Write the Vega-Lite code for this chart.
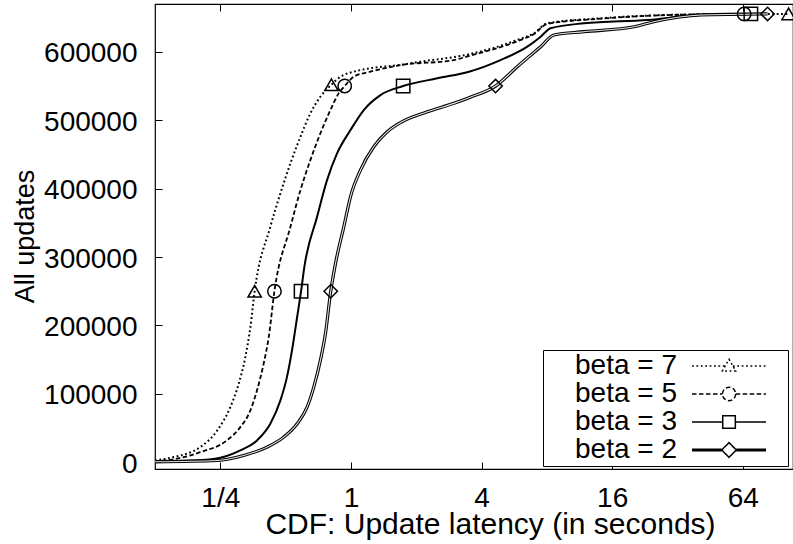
{
  "$schema": "https://vega.github.io/schema/vega-lite/v6.json",
  "width": 638,
  "height": 465,
  "autosize": {"type": "none"},
  "padding": {"left": 155, "top": 4, "right": 0, "bottom": 75},
  "background": "white",
  "config": {
    "view": {"stroke": "black", "strokeWidth": 1.2},
    "font": "Liberation Sans",
    "axis": {
      "grid": false,
      "domain": false,
      "tickColor": "black",
      "tickWidth": 1,
      "tickSize": -7,
      "labelColor": "black",
      "titleColor": "black",
      "labelFont": "Liberation Sans",
      "titleFont": "Liberation Sans",
      "labelFontSize": 28,
      "titleFontWeight": "normal"
    }
  },
  "datasets": {
    "curves": [
      {"beta": "beta = 7", "latency": 0.125, "updates": 2500},
      {"beta": "beta = 7", "latency": 0.147, "updates": 6400},
      {"beta": "beta = 7", "latency": 0.202, "updates": 22000},
      {"beta": "beta = 7", "latency": 0.242, "updates": 46400},
      {"beta": "beta = 7", "latency": 0.278, "updates": 80500},
      {"beta": "beta = 7", "latency": 0.304, "updates": 114800},
      {"beta": "beta = 7", "latency": 0.326, "updates": 153700},
      {"beta": "beta = 7", "latency": 0.344, "updates": 197600},
      {"beta": "beta = 7", "latency": 0.36, "updates": 250000},
      {"beta": "beta = 7", "latency": 0.425, "updates": 344000},
      {"beta": "beta = 7", "latency": 0.473, "updates": 393000},
      {"beta": "beta = 7", "latency": 0.526, "updates": 436900},
      {"beta": "beta = 7", "latency": 0.585, "updates": 475800},
      {"beta": "beta = 7", "latency": 0.65, "updates": 510000},
      {"beta": "beta = 7", "latency": 0.723, "updates": 534400},
      {"beta": "beta = 7", "latency": 0.813, "updates": 552000},
      {"beta": "beta = 7", "latency": 0.894, "updates": 563600},
      {"beta": "beta = 7", "latency": 1.03, "updates": 571000},
      {"beta": "beta = 7", "latency": 1.23, "updates": 576000},
      {"beta": "beta = 7", "latency": 1.69, "updates": 581000},
      {"beta": "beta = 7", "latency": 2.09, "updates": 585600},
      {"beta": "beta = 7", "latency": 3.5, "updates": 596500},
      {"beta": "beta = 7", "latency": 5.84, "updates": 617400},
      {"beta": "beta = 7", "latency": 6.97, "updates": 627200},
      {"beta": "beta = 7", "latency": 8.04, "updates": 641800},
      {"beta": "beta = 7", "latency": 14.2, "updates": 649100},
      {"beta": "beta = 7", "latency": 28.8, "updates": 654000},
      {"beta": "beta = 7", "latency": 64, "updates": 655400},
      {"beta": "beta = 7", "latency": 104, "updates": 655500},
      {"beta": "beta = 5", "latency": 0.125, "updates": 1500},
      {"beta": "beta = 5", "latency": 0.147, "updates": 3500},
      {"beta": "beta = 5", "latency": 0.202, "updates": 14600},
      {"beta": "beta = 5", "latency": 0.268, "updates": 31800},
      {"beta": "beta = 5", "latency": 0.309, "updates": 51200},
      {"beta": "beta = 5", "latency": 0.344, "updates": 75700},
      {"beta": "beta = 5", "latency": 0.369, "updates": 105000},
      {"beta": "beta = 5", "latency": 0.396, "updates": 144000},
      {"beta": "beta = 5", "latency": 0.418, "updates": 183000},
      {"beta": "beta = 5", "latency": 0.444, "updates": 250000},
      {"beta": "beta = 5", "latency": 0.526, "updates": 344000},
      {"beta": "beta = 5", "latency": 0.585, "updates": 397700},
      {"beta": "beta = 5", "latency": 0.65, "updates": 441700},
      {"beta": "beta = 5", "latency": 0.723, "updates": 480800},
      {"beta": "beta = 5", "latency": 0.804, "updates": 514900},
      {"beta": "beta = 5", "latency": 0.878, "updates": 539300},
      {"beta": "beta = 5", "latency": 0.936, "updates": 550000},
      {"beta": "beta = 5", "latency": 1.03, "updates": 563600},
      {"beta": "beta = 5", "latency": 1.23, "updates": 571000},
      {"beta": "beta = 5", "latency": 1.7, "updates": 580700},
      {"beta": "beta = 5", "latency": 2.98, "updates": 588000},
      {"beta": "beta = 5", "latency": 3.5, "updates": 594000},
      {"beta": "beta = 5", "latency": 5.84, "updates": 615500},
      {"beta": "beta = 5", "latency": 6.97, "updates": 626000},
      {"beta": "beta = 5", "latency": 8.04, "updates": 641000},
      {"beta": "beta = 5", "latency": 14.2, "updates": 648500},
      {"beta": "beta = 5", "latency": 28.8, "updates": 653800},
      {"beta": "beta = 5", "latency": 64.9, "updates": 655500},
      {"beta": "beta = 3", "latency": 0.125, "updates": 1500},
      {"beta": "beta = 3", "latency": 0.193, "updates": 2500},
      {"beta": "beta = 3", "latency": 0.25, "updates": 6400},
      {"beta": "beta = 3", "latency": 0.309, "updates": 17100},
      {"beta": "beta = 3", "latency": 0.369, "updates": 31800},
      {"beta": "beta = 3", "latency": 0.425, "updates": 56200},
      {"beta": "beta = 3", "latency": 0.473, "updates": 90300},
      {"beta": "beta = 3", "latency": 0.507, "updates": 124400},
      {"beta": "beta = 3", "latency": 0.535, "updates": 163500},
      {"beta": "beta = 3", "latency": 0.565, "updates": 212300},
      {"beta": "beta = 3", "latency": 0.589, "updates": 250000},
      {"beta": "beta = 3", "latency": 0.61, "updates": 285500},
      {"beta": "beta = 3", "latency": 0.698, "updates": 358700},
      {"beta": "beta = 3", "latency": 0.776, "updates": 412400},
      {"beta": "beta = 3", "latency": 0.863, "updates": 451500},
      {"beta": "beta = 3", "latency": 0.995, "updates": 485600},
      {"beta": "beta = 3", "latency": 1.146, "updates": 514900},
      {"beta": "beta = 3", "latency": 1.368, "updates": 536800},
      {"beta": "beta = 3", "latency": 1.741, "updates": 550000},
      {"beta": "beta = 3", "latency": 2.5, "updates": 561300},
      {"beta": "beta = 3", "latency": 3.5, "updates": 571000},
      {"beta": "beta = 3", "latency": 4.89, "updates": 588000},
      {"beta": "beta = 3", "latency": 6.5, "updates": 607600},
      {"beta": "beta = 3", "latency": 7.49, "updates": 622200},
      {"beta": "beta = 3", "latency": 8.32, "updates": 634500},
      {"beta": "beta = 3", "latency": 11.86, "updates": 641800},
      {"beta": "beta = 3", "latency": 23.3, "updates": 646600},
      {"beta": "beta = 3", "latency": 41, "updates": 654000},
      {"beta": "beta = 3", "latency": 69.7, "updates": 655500},
      {"beta": "beta = 2", "latency": 0.125, "updates": 500},
      {"beta": "beta = 2", "latency": 0.242, "updates": 2500},
      {"beta": "beta = 2", "latency": 0.32, "updates": 9800},
      {"beta": "beta = 2", "latency": 0.411, "updates": 22000},
      {"beta": "beta = 2", "latency": 0.49, "updates": 36600},
      {"beta": "beta = 2", "latency": 0.565, "updates": 56200},
      {"beta": "beta = 2", "latency": 0.628, "updates": 80500},
      {"beta": "beta = 2", "latency": 0.674, "updates": 109800},
      {"beta": "beta = 2", "latency": 0.723, "updates": 148900},
      {"beta": "beta = 2", "latency": 0.763, "updates": 188000},
      {"beta": "beta = 2", "latency": 0.807, "updates": 250000},
      {"beta": "beta = 2", "latency": 0.848, "updates": 290000},
      {"beta": "beta = 2", "latency": 0.927, "updates": 344000},
      {"beta": "beta = 2", "latency": 0.995, "updates": 388000},
      {"beta": "beta = 2", "latency": 1.106, "updates": 427000},
      {"beta": "beta = 2", "latency": 1.274, "updates": 461200},
      {"beta": "beta = 2", "latency": 1.469, "updates": 483100},
      {"beta": "beta = 2", "latency": 1.7, "updates": 497000},
      {"beta": "beta = 2", "latency": 2.25, "updates": 512400},
      {"beta": "beta = 2", "latency": 2.98, "updates": 524700},
      {"beta": "beta = 2", "latency": 3.5, "updates": 533000},
      {"beta": "beta = 2", "latency": 4.64, "updates": 550000},
      {"beta": "beta = 2", "latency": 5.84, "updates": 578300},
      {"beta": "beta = 2", "latency": 7.49, "updates": 607600},
      {"beta": "beta = 2", "latency": 8.62, "updates": 624700},
      {"beta": "beta = 2", "latency": 11.86, "updates": 629500},
      {"beta": "beta = 2", "latency": 20.2, "updates": 636800},
      {"beta": "beta = 2", "latency": 24.9, "updates": 644100},
      {"beta": "beta = 2", "latency": 41, "updates": 654000},
      {"beta": "beta = 2", "latency": 83.2, "updates": 655500}
    ],
    "markers": [
      {"beta": "beta = 7", "latency": 0.36, "updates": 250000},
      {"beta": "beta = 7", "latency": 0.813, "updates": 552000},
      {"beta": "beta = 7", "latency": 104, "updates": 655500},
      {"beta": "beta = 5", "latency": 0.444, "updates": 250000},
      {"beta": "beta = 5", "latency": 0.936, "updates": 550000},
      {"beta": "beta = 5", "latency": 64.9, "updates": 655500},
      {"beta": "beta = 3", "latency": 0.589, "updates": 250000},
      {"beta": "beta = 3", "latency": 1.741, "updates": 550000},
      {"beta": "beta = 3", "latency": 69.7, "updates": 655500},
      {"beta": "beta = 2", "latency": 0.807, "updates": 250000},
      {"beta": "beta = 2", "latency": 4.64, "updates": 550000},
      {"beta": "beta = 2", "latency": 83.2, "updates": 655500}
    ]
  },
  "resolve": {"axis": {"x": "independent"}},
  "layer": [
    {
      "data": {"name": "curves"},
      "transform": [{"filter": "datum.beta === 'beta = 7'"}],
      "mark": {"type": "line", "interpolate": "monotone", "clip": true, "color": "black", "strokeWidth": 2, "strokeDash": [1.8, 2.6]},
      "encoding": {
        "x": {
          "field": "latency", "type": "quantitative",
          "scale": {"type": "log", "base": 2, "domain": [0.125, 109], "nice": false},
          "axis": {
            "orient": "bottom",
            "values": [0.25, 1, 4, 16, 64],
            "labelExpr": "datum.value < 1 ? '1/4' : format(datum.value, 'd')",
            "labelBaseline": "alphabetic",
            "labelPadding": 44,
            "labelFlush": false,
            "labelOverlap": false,
            "title": "CDF: Update latency (in seconds)",
            "titleFontSize": 30,
            "titleX": 335,
            "titleY": 64,
            "titleAlign": "center",
            "titleBaseline": "alphabetic"
          }
        },
        "y": {
          "field": "updates", "type": "quantitative",
          "scale": {"domain": [-10000, 670000], "nice": false, "zero": false},
          "axis": {
            "values": [0, 100000, 200000, 300000, 400000, 500000, 600000],
            "format": "d",
            "labelBaseline": "alphabetic",
            "labelOffset": 10,
            "labelPadding": 25,
            "labelFlush": false,
            "labelOverlap": false,
            "title": "All updates",
            "titleFontSize": 27,
            "titleAngle": -90,
            "titleX": -122,
            "titleY": 232,
            "titleAlign": "center",
            "titleBaseline": "alphabetic"
          }
        }
      }
    },
    {
      "data": {"name": "curves"},
      "transform": [{"filter": "datum.beta === 'beta = 5'"}],
      "mark": {"type": "line", "interpolate": "monotone", "clip": true, "color": "black", "strokeWidth": 1.8, "strokeDash": [4.5, 2.5]},
      "encoding": {
        "x": {"field": "latency", "type": "quantitative", "axis": null},
        "y": {"field": "updates", "type": "quantitative"}
      }
    },
    {
      "data": {"name": "curves"},
      "transform": [{"filter": "datum.beta === 'beta = 3'"}],
      "mark": {"type": "line", "interpolate": "monotone", "clip": true, "color": "black", "strokeWidth": 2},
      "encoding": {
        "x": {"field": "latency", "type": "quantitative", "axis": null},
        "y": {"field": "updates", "type": "quantitative"}
      }
    },
    {
      "data": {"name": "curves"},
      "transform": [{"filter": "datum.beta === 'beta = 2'"}],
      "mark": {"type": "line", "interpolate": "monotone", "clip": true, "color": "black", "strokeWidth": 3.2},
      "encoding": {
        "x": {"field": "latency", "type": "quantitative", "axis": null},
        "y": {"field": "updates", "type": "quantitative"}
      }
    },
    {
      "data": {"name": "curves"},
      "transform": [{"filter": "datum.beta === 'beta = 2'"}],
      "mark": {"type": "line", "interpolate": "monotone", "clip": true, "color": "#e6e6e6", "strokeWidth": 1.1},
      "encoding": {
        "x": {"field": "latency", "type": "quantitative", "axis": null},
        "y": {"field": "updates", "type": "quantitative"}
      }
    },
    {
      "data": {"name": "markers"},
      "transform": [{"filter": "datum.beta === 'beta = 7'"}],
      "mark": {"type": "point", "shape": "triangle-up", "filled": false, "color": "black", "strokeWidth": 1.5, "size": 180, "opacity": 1, "clip": true},
      "encoding": {
        "x": {
          "field": "latency", "type": "quantitative",
          "axis": {"orient": "top", "values": [0.25, 1, 4, 16, 64], "labels": false, "title": null, "tickSize": -7}
        },
        "y": {"field": "updates", "type": "quantitative"}
      }
    },
    {
      "data": {"name": "markers"},
      "transform": [{"filter": "datum.beta === 'beta = 5'"}],
      "mark": {"type": "point", "shape": "circle", "filled": false, "color": "black", "strokeWidth": 1.5, "size": 180, "opacity": 1, "clip": true},
      "encoding": {
        "x": {"field": "latency", "type": "quantitative", "axis": null},
        "y": {"field": "updates", "type": "quantitative"}
      }
    },
    {
      "data": {"name": "markers"},
      "transform": [{"filter": "datum.beta === 'beta = 3'"}],
      "mark": {"type": "point", "shape": "square", "filled": false, "color": "black", "strokeWidth": 1.5, "size": 180, "opacity": 1, "clip": true},
      "encoding": {
        "x": {"field": "latency", "type": "quantitative", "axis": null},
        "y": {"field": "updates", "type": "quantitative"}
      }
    },
    {
      "data": {"name": "markers"},
      "transform": [{"filter": "datum.beta === 'beta = 2'"}],
      "mark": {"type": "point", "shape": "diamond", "filled": false, "color": "black", "strokeWidth": 1.5, "size": 180, "opacity": 1, "clip": true},
      "encoding": {
        "x": {"field": "latency", "type": "quantitative", "axis": null},
        "y": {"field": "updates", "type": "quantitative"}
      }
    },
    {
      "data": {"name": "markers"},
      "transform": [{"filter": "datum.updates < 0"}],
      "mark": {"type": "point", "filled": false, "color": "black", "strokeWidth": 1.5, "opacity": 1},
      "encoding": {
        "x": {"field": "latency", "type": "quantitative", "axis": null},
        "y": {"field": "updates", "type": "quantitative"},
        "shape": {
          "field": "beta", "type": "nominal",
          "scale": {
            "domain": ["beta = 7", "beta = 5", "beta = 3", "beta = 2"],
            "range": [
              "M-2,0M19,0H23.74M24.84,0H29.57M24.29,-0.95L25.24,0.7L23.34,0.7ZM32,0",
              "M-2,0M19,0H23.34M25.24,0H29.57M25.24,0A0.95,0.95,0,1,1,23.34,0A0.95,0.95,0,1,1,25.24,0ZM32,0",
              "M-2,0M19,0H23.39M25.19,0H29.57M23.39,-0.9H25.19V0.9H23.39ZM32,0",
              "M-2,0M19,-0.1H23.24M25.34,-0.1H29.57M19,0.1H23.24M25.34,0.1H29.57M24.29,-1.05L25.34,0L24.29,1.05L23.24,0ZM32,0"
            ]
          },
          "legend": {
            "title": null,
            "orient": "none",
            "legendX": 388,
            "legendY": 346,
            "direction": "vertical",
            "strokeColor": "black",
            "fillColor": "white",
            "padding": 2,
            "rowPadding": -0.6,
            "labelFont": "Liberation Sans",
            "labelFontSize": 28,
            "labelColor": "black",
            "labelOffset": 2,
            "labelLimit": 300,
            "symbolOffset": 0,
            "symbolSize": 196,
            "symbolStrokeWidth": 1.5,
            "symbolStrokeColor": "black",
            "symbolFillColor": "transparent",
            "symbolOpacity": 1
          }
        },
        "strokeDash": {
          "field": "beta", "type": "nominal",
          "scale": {
            "domain": ["beta = 7", "beta = 5", "beta = 3", "beta = 2"],
            "range": [[1.8, 2.6], [4.5, 2.5], [1, 0], [1, 0]]
          },
          "legend": {
            "title": null,
            "orient": "none",
            "legendX": 388,
            "legendY": 346,
            "direction": "vertical",
            "strokeColor": "black",
            "fillColor": "white",
            "padding": 2,
            "rowPadding": -0.6,
            "labelFont": "Liberation Sans",
            "labelFontSize": 28,
            "labelColor": "black",
            "labelOffset": 2,
            "labelLimit": 300,
            "symbolOffset": 0,
            "symbolSize": 196,
            "symbolStrokeWidth": 1.5,
            "symbolStrokeColor": "black",
            "symbolFillColor": "transparent",
            "symbolOpacity": 1
          }
        }
      }
    }
  ]
}
